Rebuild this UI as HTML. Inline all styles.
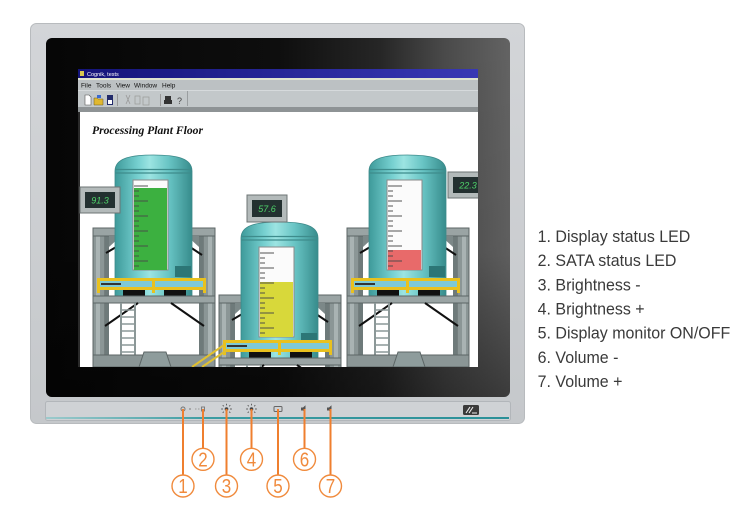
<!DOCTYPE html>
<html><head><meta charset="utf-8"><style>
html,body{margin:0;padding:0;background:#fff;width:743px;height:517px;overflow:hidden}
svg{display:block}
</style></head><body>
<svg width="743" height="517" viewBox="0 0 743 517" xmlns="http://www.w3.org/2000/svg">
<defs>
 <linearGradient id="silver" x1="0" y1="0" x2="0" y2="1">
  <stop offset="0" stop-color="#d3d5d8"/><stop offset="1" stop-color="#c5c8cb"/>
 </linearGradient>
 <linearGradient id="bezel" x1="0" y1="0" x2="1" y2="0">
  <stop offset="0" stop-color="#060606"/><stop offset="0.5" stop-color="#0e0e0e"/><stop offset="0.72" stop-color="#262626"/><stop offset="0.86" stop-color="#4a4a4a"/><stop offset="1" stop-color="#636363"/>
 </linearGradient>
 <linearGradient id="bezelv" x1="0" y1="0" x2="0" y2="1">
  <stop offset="0" stop-color="#000" stop-opacity="0"/><stop offset="0.6" stop-color="#000" stop-opacity="0.05"/><stop offset="1" stop-color="#000" stop-opacity="0.4"/>
 </linearGradient>
 <linearGradient id="teal" x1="0" y1="0" x2="1" y2="0">
  <stop offset="0" stop-color="#3e9a9a"/><stop offset="0.3" stop-color="#76d0d0"/><stop offset="0.45" stop-color="#9ce4e2"/><stop offset="0.7" stop-color="#68c4c4"/><stop offset="1" stop-color="#378c8c"/>
 </linearGradient>
 <linearGradient id="title" x1="0" y1="0" x2="1" y2="0">
  <stop offset="0" stop-color="#14147a"/><stop offset="1" stop-color="#3838b4"/>
 </linearGradient>
 <linearGradient id="tealline" x1="0" y1="0" x2="1" y2="0">
  <stop offset="0" stop-color="#9ccacc"/><stop offset="0.35" stop-color="#3b9ca2"/><stop offset="1" stop-color="#2a9098"/>
 </linearGradient>
 <clipPath id="scr"><rect x="78" y="69" width="400" height="298"/></clipPath>

 <g id="upper">
  <rect x="93" y="228" width="12" height="139" fill="#8b9696" stroke="#5c6666"/>
  <rect x="96" y="236" width="4" height="131" fill="#a9b3b3"/>
  <rect x="203" y="228" width="12" height="139" fill="#8b9696" stroke="#5c6666"/>
  <rect x="208" y="236" width="4" height="131" fill="#a9b3b3"/>
  <rect x="105" y="236" width="4" height="120" fill="#6e7a7a"/>
  <rect x="199" y="236" width="4" height="120" fill="#6e7a7a"/>
  <rect x="93" y="228" width="122" height="8" fill="#9aa4a4" stroke="#5c6666"/>
  <path d="M109,236 h12 l-12,11 z" fill="#7c8888"/>
  <path d="M199,236 h-12 l12,11 z" fill="#7c8888"/>
  <path d="M106,253 L133,237 M175,237 L202,255" stroke="#111" stroke-width="2"/>
  <path d="M115,296 V171 C115,158 131,155 153.5,155 C176,155 192,158 192,171 V296 Z" fill="url(#teal)" stroke="#3d8a8a" stroke-width="0.8"/>
  <path d="M115,169.5 H192 M115,173 H192" stroke="#3e8c8c" stroke-width="1.2"/>
  <rect x="133" y="180" width="35" height="90" fill="#fbfbfb" stroke="#8a8a8a"/>
  <rect x="175" y="266" width="16" height="11" fill="#2c7676"/>
 </g>
 <g id="lower">
  <rect x="100" y="281" width="103" height="7" fill="#7ec9d6"/>
  <rect x="97" y="278" width="109" height="3" fill="#e9c11e"/>
  <rect x="97" y="287" width="109" height="3" fill="#e9c11e"/>
  <rect x="97" y="278" width="3" height="15" fill="#e9c11e"/>
  <rect x="152" y="278" width="3" height="15" fill="#e9c11e"/>
  <rect x="203" y="278" width="3" height="15" fill="#e9c11e"/>
  <rect x="101" y="283" width="20" height="2" fill="#333"/>
  <rect x="123" y="290" width="22" height="7" fill="#111"/>
  <rect x="164" y="290" width="22" height="7" fill="#111"/>
  <rect x="93" y="296" width="122" height="7" fill="#9aa4a4" stroke="#5c6666"/>
  <path d="M105,326 L138,303 M171,303 L204,326" stroke="#111" stroke-width="2"/>
  <path d="M121,303 V355 M135,303 V355" stroke="#8c9898" stroke-width="2"/>
  <path d="M121,310 H135 M121,317 H135 M121,324 H135 M121,331 H135 M121,338 H135 M121,345 H135 M121,352 H135" stroke="#8c9898" stroke-width="1.5"/>
  <rect x="93" y="355" width="122" height="12" fill="#8b9696" stroke="#5c6666"/>
  <path d="M139,367 L144,352 H166 L171,367 Z" fill="#8e9c9c" stroke="#5c6666"/>
 </g>
 <path id="ticks" d="M134,186h14 M134,191h5 M134,196h5 M134,201h14 M134,206h5 M134,211h5 M134,216h14 M134,221h5 M134,226h5 M134,231h14 M134,236h5 M134,241h5 M134,246h14 M134,251h5 M134,256h5 M134,261h14 M134,266h5" stroke="#4a4a4a" stroke-width="1.2" stroke-opacity="0.75"/>

 <g id="sun">
  <circle cx="0" cy="0" r="1.8" fill="#444"/>
  <path d="M0,-5.3 V-3.6 M0,3.6 V5.3 M-5.3,0 H-3.6 M3.6,0 H5.3 M-3.8,-3.8 L-2.7,-2.7 M2.7,2.7 L3.8,3.8 M3.8,-3.8 L2.7,-2.7 M-2.7,2.7 L-3.8,3.8" stroke="#555" stroke-width="0.9"/>
 </g>
 <path id="spk" d="M-3.5,-1.5 h2 l2.5,-2.2 v7.4 l-2.5,-2.2 h-2 z" fill="#555"/>
</defs>

<!-- outer silver bezel -->
<rect x="30.5" y="23.5" width="494" height="400" rx="6" fill="url(#silver)" stroke="#b8bbbe"/>
<!-- black bezel -->
<rect x="46" y="38" width="464" height="359" rx="6" fill="url(#bezel)"/>
<rect x="46" y="38" width="464" height="359" rx="6" fill="url(#bezelv)"/>

<!-- screen -->
<g clip-path="url(#scr)">
 <rect x="78" y="69" width="400" height="298" fill="#fff"/>
 <rect x="78" y="69" width="2" height="298" fill="#2a2a2a"/>

 <use href="#upper"/>
 <rect x="134" y="188" width="33" height="82" fill="#3cb040"/>
 <use href="#ticks"/>
 <use href="#lower"/>

 <use href="#upper" transform="translate(254,0)"/>
 <rect x="388" y="250" width="33" height="20" fill="#e86a6a"/>
 <use href="#ticks" transform="translate(254,0)"/>
 <use href="#lower" transform="translate(254,0)"/>

 <use href="#upper" transform="translate(126,67)"/>
 <rect x="260" y="282" width="33" height="55" fill="#d8d83a"/>
 <use href="#ticks" transform="translate(126,67)"/>
 <use href="#lower" transform="translate(126,62)"/>

 <path d="M192,367 L224,345 M202,367 L227,350" stroke="#e0c030" stroke-width="2"/>

 <!-- displays -->
 <rect x="80" y="187" width="40" height="26" fill="#b3baba" stroke="#6d7474"/>
 <rect x="85" y="192" width="30" height="16" fill="#233030"/>
 <text x="100" y="203.5" text-anchor="middle" font-family="Liberation Sans, sans-serif" font-style="italic" font-size="9" fill="#4fd36a">91.3</text>

 <rect x="247" y="195" width="40" height="27" fill="#b3baba" stroke="#6d7474"/>
 <rect x="252" y="200" width="30" height="17" fill="#233030"/>
 <text x="267" y="212" text-anchor="middle" font-family="Liberation Sans, sans-serif" font-style="italic" font-size="9" fill="#4fd36a">57.6</text>

 <rect x="448" y="172" width="40" height="26" fill="#b3baba" stroke="#6d7474"/>
 <rect x="453" y="177" width="30" height="16" fill="#233030"/>
 <text x="468" y="188.5" text-anchor="middle" font-family="Liberation Sans, sans-serif" font-style="italic" font-size="9" fill="#4fd36a">22.3</text>

 <text x="92" y="134" font-family="Liberation Serif, serif" font-weight="bold" font-style="italic" font-size="12" textLength="111" lengthAdjust="spacingAndGlyphs" fill="#111">Processing Plant Floor</text>

 <!-- window chrome -->
 <rect x="78" y="69" width="400" height="9" fill="url(#title)"/>
 <rect x="80" y="71" width="4" height="5" fill="#d8c850"/>
 <text x="87" y="76" font-family="Liberation Sans, sans-serif" font-size="5.5" fill="#fff">Cognik, tests</text>
 <rect x="78" y="78" width="400" height="2" fill="#dfe3cf"/>
 <rect x="78" y="80" width="400" height="10" fill="#bcc1c3"/>
 <text font-family="Liberation Sans, sans-serif" font-size="6.5" fill="#111" y="87.5">
  <tspan x="81">File</tspan><tspan x="96">Tools</tspan><tspan x="116">View</tspan><tspan x="134">Window</tspan><tspan x="162">Help</tspan>
 </text>
 <rect x="78" y="90" width="400" height="17" fill="#c3c8ca"/>
 <rect x="78" y="90" width="400" height="1" fill="#d6dadc"/>
 <rect x="187" y="91" width="1" height="15" fill="#9a9ea0"/>
 <path d="M85,95 h4 l2,2 v8 h-6 z" fill="#fff" stroke="#555" stroke-width="0.6"/>
 <path d="M94,98 h3 l1,1 h5 v6 h-9 z" fill="#e0b830" stroke="#6a5a20" stroke-width="0.5"/>
 <rect x="97" y="95" width="4" height="3" fill="#3a6ad0"/>
 <rect x="107" y="95" width="6" height="10" fill="#222a6a"/>
 <rect x="108" y="100" width="4" height="4" fill="#fff"/>
 <rect x="117" y="94" width="1" height="12" fill="#999"/>
 <path d="M126,95 l4,9 M130,95 l-4,9" stroke="#999" stroke-width="0.8"/>
 <rect x="135" y="96" width="5" height="8" fill="none" stroke="#999" stroke-width="0.7"/>
 <rect x="143" y="97" width="6" height="8" fill="none" stroke="#999" stroke-width="0.7"/>
 <rect x="160" y="94" width="1" height="12" fill="#999"/>
 <path d="M164,100 h8 v4 h-8 z M165,96 h6 v4 h-6 z" fill="#333"/>
 <text x="177" y="104" font-family="Liberation Sans, sans-serif" font-size="9" fill="#444">?</text>
 <rect x="78" y="107" width="400" height="5" fill="#8e9395"/>
</g>

<!-- bottom strip -->
<rect x="45.5" y="401.5" width="465" height="19" rx="2" fill="#cfd2d5" stroke="#b2b6ba"/>
<rect x="46" y="417" width="463" height="2" fill="url(#tealline)"/>
<rect x="463" y="405" width="16" height="10" rx="1.5" fill="#3a3a3a"/>
<path d="M466,413 l4,-6 M469,413 l4,-6 M472,413 h5" stroke="#eee" stroke-width="1.1"/>

<!-- strip icons -->
<circle cx="183" cy="409" r="2" fill="none" stroke="#777" stroke-width="1"/>
<circle cx="190" cy="409" r="0.9" fill="#888"/>
<path d="M195,409 h1.5 M198,409 h1.5" stroke="#999" stroke-width="0.9"/>
<rect x="201.5" y="407" width="3" height="4" fill="none" stroke="#777" stroke-width="0.9"/>
<use href="#sun" transform="translate(226.5,409)"/>
<use href="#sun" transform="translate(251.5,409)"/>
<rect x="274" y="406.5" width="8" height="5" rx="1" fill="none" stroke="#666" stroke-width="1"/>
<use href="#spk" transform="translate(304.5,409)"/>
<use href="#spk" transform="translate(330.5,409)"/>

<!-- callouts -->
<g stroke="#ef7f2f" stroke-width="2" fill="none">
 <path d="M183,409 V475 M203,409 V448 M226.5,409 V475 M251.5,409 V448 M278,409 V475 M304.5,409 V448 M330.5,409 V475"/>
</g>
<g stroke="#f08a3c" stroke-width="1.4" fill="#fff">
 <circle cx="183" cy="486" r="11"/>
 <circle cx="203" cy="459.3" r="11"/>
 <circle cx="226.5" cy="486" r="11"/>
 <circle cx="251.5" cy="459.3" r="11"/>
 <circle cx="278" cy="486" r="11"/>
 <circle cx="304.5" cy="459.3" r="11"/>
 <circle cx="330.5" cy="486" r="11"/>
</g>
<g font-family="Liberation Sans, sans-serif" font-size="20" fill="#f08a3c" text-anchor="middle">
 <text transform="translate(183,493.2) scale(0.85,1)">1</text>
 <text transform="translate(203,466.5) scale(0.85,1)">2</text>
 <text transform="translate(226.5,493.2) scale(0.85,1)">3</text>
 <text transform="translate(251.5,466.5) scale(0.85,1)">4</text>
 <text transform="translate(278,493.2) scale(0.85,1)">5</text>
 <text transform="translate(304.5,466.5) scale(0.85,1)">6</text>
 <text transform="translate(330.5,493.2) scale(0.85,1)">7</text>
</g>

<!-- legend -->
<g transform="scale(0.94,1)" font-family="Liberation Sans, sans-serif" font-size="17" fill="#3a3a3a">
 <text x="572" y="242">1. Display status LED</text>
 <text x="572" y="266.2">2. SATA status LED</text>
 <text x="572" y="290.3">3. Brightness -</text>
 <text x="572" y="314.5">4. Brightness +</text>
 <text x="572" y="338.7">5. Display monitor ON/OFF</text>
 <text x="572" y="362.8">6. Volume -</text>
 <text x="572" y="387">7. Volume +</text>
</g>
</svg>
</body></html>
